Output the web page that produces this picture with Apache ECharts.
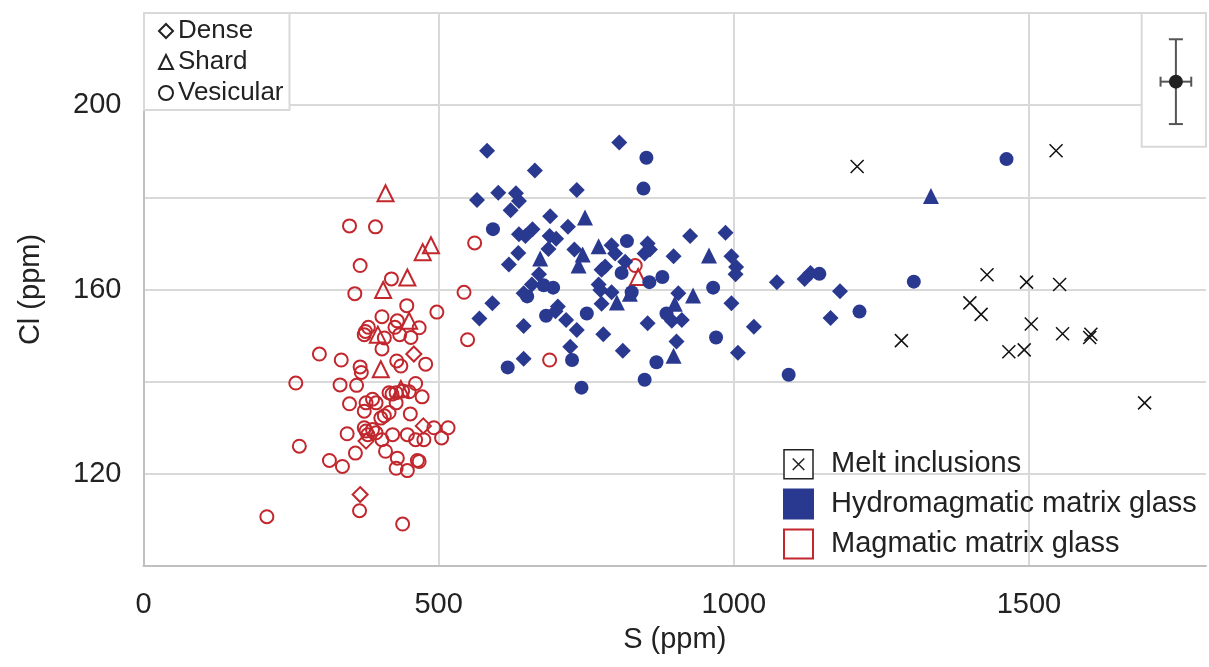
<!DOCTYPE html>
<html>
<head>
<meta charset="utf-8">
<script src="https://cdn.jsdelivr.net/npm/echarts@6/dist/echarts.min.js"></script>
<style>
html,body{margin:0;padding:0;background:#fff;}
#chart{width:1209px;height:667px;}
</style>
</head>
<body>
<div id="chart"></div>
<script>
// S (ppm), Cl (ppm)
const hydroDense = [[582,190.1],[806,191.9],[663,185.8],[565,179.4],[601,181.0],[631,180.9],[636,179.2],[622,177.2],[734,181.6],[689,175.9],[719,173.6],[659,173.1],[636,172.0],[647,171.6],[688,171.6],[699,171.0],[686,168.8],[635,167.9],[619,165.4],[730,168.7],[793,169.6],[799,167.8],[854,170.0],[858,168.7],[849,167.8],[926,171.6],[898,167.2],[816,166.0],[782,165.0],[776,164.3],[670,163.3],[658,161.1],[644,159.2],[771,161.1],[774,159.9],[793,159.4],[906,159.2],[776,156.9],[702,156.3],[698,155.3],[591,157.0],[569,153.7],[644,152.1],[716,153.4],[734,151.2],[779,150.3],[854,152.7],[912,153.4],[903,148.7],[723,147.6],[812,146.7],[644,145.0],[895,153.2],[986,172.3],[996,167.2],[1004,164.9],[1003,163.3],[1073,161.6],[1120,162.3],[1130,163.6],[1180,159.6],[996,157.0],[1164,153.8],[1034,151.9],[1007,146.3]];
const hydroShard = [[748,175.6],[771,169.4],[744,167.6],[737,165.2],[672,166.7],[802,157.2],[900,156.9],[931,158.7],[898,145.6],[958,167.4],[824,159.1],[1334,180.3]];
const hydroVesicular = [[852,188.6],[847,181.9],[592,173.1],[819,170.5],[810,163.6],[857,161.6],[879,162.7],[694,160.4],[678,160.9],[650,158.5],[682,154.3],[751,154.8],[886,154.8],[827,159.4],[726,144.7],[617,143.1],[869,144.2],[849,140.4],[742,138.7],[965,160.4],[1145,163.4],[1213,155.2],[970,149.6],[1305,161.7],[1093,141.5],[1462,188.3]];
const meltInclusions = [[1209,186.7],[1546,190.1],[1284,148.9],[1429,163.2],[1496,161.6],[1552,161.1],[1400,157.1],[1419,154.6],[1504,152.5],[1557,150.4],[1605,150.3],[1603,149.6],[1466,146.5],[1492,146.9],[1696,135.4]];
const magDense = [[458,146.0],[377,127.1],[474,130.4],[367,115.5]];
const magShard = [[410,180.9],[487,169.6],[473,168.1],[447,162.6],[406,159.9],[450,153.2],[397,150.2],[402,142.7],[436,138.4],[838,162.7]];
const magVesicular = [[349,173.8],[393,173.6],[367,165.2],[420,162.3],[358,159.1],[561,170.1],[543,159.4],[549,149.1],[497,155.1],[446,156.5],[404,154.1],[430,153.2],[467,151.7],[381,151.8],[376,150.9],[374,150.2],[426,151.8],[434,150.2],[453,149.6],[408,149.5],[404,147.1],[298,146.0],[335,144.7],[367,143.2],[429,144.5],[478,143.8],[369,142.0],[436,143.4],[258,139.7],[333,139.3],[361,139.2],[349,135.2],[377,135.4],[388,136.2],[394,135.4],[416,137.6],[421,137.3],[428,137.6],[439,138.0],[450,137.8],[461,139.6],[472,136.7],[374,133.6],[402,132.1],[408,132.6],[416,133.3],[428,135.4],[452,133.0],[345,128.7],[374,130.0],[377,129.3],[380,128.5],[388,129.6],[394,128.9],[404,127.4],[422,128.5],[447,128.5],[461,127.4],[475,127.4],[492,130.0],[516,130.0],[505,127.8],[264,126.0],[359,124.5],[410,124.9],[315,122.9],[337,121.6],[430,123.4],[428,121.2],[447,120.7],[464,122.9],[467,122.7],[366,112.0],[209,110.7],[439,109.1],[688,144.7],[833,165.2]];
// representative error: [S, Cl, ±S, ±Cl]
const errorBar = [[1749,205.1,26,9.2]];
const errorBox = [[1691,191],[1815,220]];
const xTicks = [0,500,1000,1500];
const xGrid = [500,1000,1500];
const yTicks = [120,160,200];

const BLUE = '#2a3990';
const RED = '#c1272d';
const GRID = '#d9d9d9';
const FONT = '"Liberation Sans", Arial, Helvetica, sans-serif';

const chart = echarts.init(document.getElementById('chart'));
const crossPath = 'path://M0,0L10,10M10,0L0,10';

chart.setOption({
  animation: false,
  textStyle: {fontFamily: FONT, color: '#222'},
  grid: {left: 143.5, right: 0, top: 13, bottom: 101, containLabel: false},
  xAxis: {
    type: 'value', min: 0, max: 1800, interval: 500,
    name: 'S (ppm)', nameLocation: 'middle', nameGap: 59,
    nameTextStyle: {fontSize: 29, color: '#222', fontFamily: FONT},
    axisLine: {show: true, lineStyle: {color: '#c0c0c0', width: 2}},
    axisTick: {show: false},
    axisLabel: {fontSize: 29, color: '#222', margin: 24, fontFamily: FONT,
      formatter: v => xTicks.includes(v) ? String(v) : ''},
    splitLine: {show: false}
  },
  yAxis: {
    type: 'value', min: 100, max: 220, interval: 20,
    name: 'Cl (ppm)', nameLocation: 'middle', nameGap: 98, nameRotate: 90,
    nameTextStyle: {fontSize: 29, color: '#222', fontFamily: FONT},
    axisLine: {show: true, lineStyle: {color: '#c0c0c0', width: 2}},
    axisTick: {show: false},
    axisLabel: {fontSize: 29, color: '#222', margin: 22, fontFamily: FONT,
      formatter: v => yTicks.includes(v) ? String(v) : ''},
    splitLine: {show: true, lineStyle: {color: GRID, width: 2}}
  },
  legend: [
    {
      orient: 'vertical', left: 144, top: 13, z: 10,
      padding: [5, 6, 4, 14], itemGap: 5, itemWidth: 14, itemHeight: 14,
      backgroundColor: '#fff', borderColor: GRID, borderWidth: 2,
      selectedMode: false,
      textStyle: {fontSize: 26, lineHeight: 26, color: '#222', fontFamily: FONT},
      data: ['Dense', 'Shard', 'Vesicular']
    },
    {
      orient: 'vertical', left: 783, top: 449, z: 10,
      padding: 0, itemGap: 9, itemWidth: 29, itemHeight: 29,
      selectedMode: false,
      textStyle: {fontSize: 29, lineHeight: 29, color: '#222', fontFamily: FONT, padding: [0, 0, 0, 13]},
      data: [
        {name: 'Melt inclusions', icon: 'path://M0,0H30V30H0ZM9,9L21,21M21,9L9,21',
          itemStyle: {color: '#fff', borderColor: '#222', borderWidth: 1.5}},
        {name: 'Hydromagmatic matrix glass', icon: 'rect'},
        {name: 'Magmatic matrix glass', icon: 'rect'}
      ]
    }
  ],
  series: [
    {name: 'Dense', type: 'scatter', data: [], symbol: 'diamond', z: 0,
      itemStyle: {color: '#fff', borderColor: '#222', borderWidth: 1.5, opacity: 1},
      markLine: {silent: true, z: 0, symbol: 'none', label: {show: false},
        lineStyle: {color: GRID, width: 2, type: 'solid'},
        emphasis: {disabled: true},
        data: xGrid.map(v => ({xAxis: v}))}},
    {name: 'Shard', type: 'scatter', data: [], symbol: 'triangle',
      itemStyle: {color: '#fff', borderColor: '#222', borderWidth: 1.5, opacity: 1}},
    {name: 'Vesicular', type: 'scatter', data: [], symbol: 'circle',
      itemStyle: {color: '#fff', borderColor: '#222', borderWidth: 1.5, opacity: 1}},
    {name: 'Hydromagmatic matrix glass', type: 'scatter', data: [], symbol: 'rect',
      itemStyle: {color: BLUE, borderColor: BLUE, borderWidth: 1, opacity: 1}},
    {name: 'Magmatic matrix glass', type: 'scatter', data: [], symbol: 'rect',
      itemStyle: {color: '#fff', borderColor: RED, borderWidth: 2.5, opacity: 1}},

    {name: 'Magmatic dense', type: 'scatter', data: magDense, symbol: 'diamond', symbolSize: 15, z: 3,
      itemStyle: {color: 'rgba(255,255,255,0)', borderColor: RED, borderWidth: 2, opacity: 1}},
    {name: 'Magmatic shard', type: 'scatter', data: magShard, symbol: 'triangle', symbolSize: 16, z: 3,
      itemStyle: {color: 'rgba(255,255,255,0)', borderColor: RED, borderWidth: 2, opacity: 1}},
    {name: 'Magmatic vesicular', type: 'scatter', data: magVesicular, symbol: 'circle', symbolSize: 13, z: 3,
      itemStyle: {color: 'rgba(255,255,255,0)', borderColor: RED, borderWidth: 2, opacity: 1}},

    {name: 'Hydro dense', type: 'scatter', data: hydroDense, symbol: 'diamond', symbolSize: 16, z: 3,
      itemStyle: {color: BLUE, opacity: 1}},
    {name: 'Hydro shard', type: 'scatter', data: hydroShard, symbol: 'triangle', symbolSize: 16, z: 3,
      itemStyle: {color: BLUE, opacity: 1}},
    {name: 'Hydro vesicular', type: 'scatter', data: hydroVesicular, symbol: 'circle', symbolSize: 14, z: 3,
      itemStyle: {color: BLUE, opacity: 1}},

    {name: 'Melt inclusions', type: 'scatter', data: meltInclusions, symbol: crossPath, symbolSize: 13, z: 3,
      itemStyle: {color: 'rgba(0,0,0,0)', borderColor: '#111', borderWidth: 1.5, opacity: 1}},

    {
      name: 'Error', type: 'custom', data: errorBar, silent: true, z: 3,
      markArea: {silent: true, z: 1,
        itemStyle: {color: '#fff', borderColor: GRID, borderWidth: 2},
        data: [[{coord: errorBox[0]}, {coord: errorBox[1]}]]},
      renderItem: function (params, api) {
        const x = api.value(0), y = api.value(1), dx = api.value(2), dy = api.value(3);
        const c = api.coord([x, y]);
        const l = api.coord([x - dx, y]), r = api.coord([x + dx, y]);
        const t = api.coord([x, y + dy]), b = api.coord([x, y - dy]);
        const st = {stroke: '#555', lineWidth: 2};
        return {type: 'group', children: [
          {type: 'line', shape: {x1: t[0], y1: t[1], x2: b[0], y2: b[1]}, style: st},
          {type: 'line', shape: {x1: t[0] - 7, y1: t[1], x2: t[0] + 7, y2: t[1]}, style: st},
          {type: 'line', shape: {x1: b[0] - 7, y1: b[1], x2: b[0] + 7, y2: b[1]}, style: st},
          {type: 'line', shape: {x1: l[0], y1: l[1], x2: r[0], y2: r[1]}, style: st},
          {type: 'line', shape: {x1: l[0], y1: l[1] - 5, x2: l[0], y2: l[1] + 5}, style: st},
          {type: 'line', shape: {x1: r[0], y1: r[1] - 5, x2: r[0], y2: r[1] + 5}, style: st},
          {type: 'circle', shape: {cx: c[0], cy: c[1], r: 7}, style: {fill: '#222'}}
        ]};
      }
    }
  ]
});
</script>
</body>
</html>
